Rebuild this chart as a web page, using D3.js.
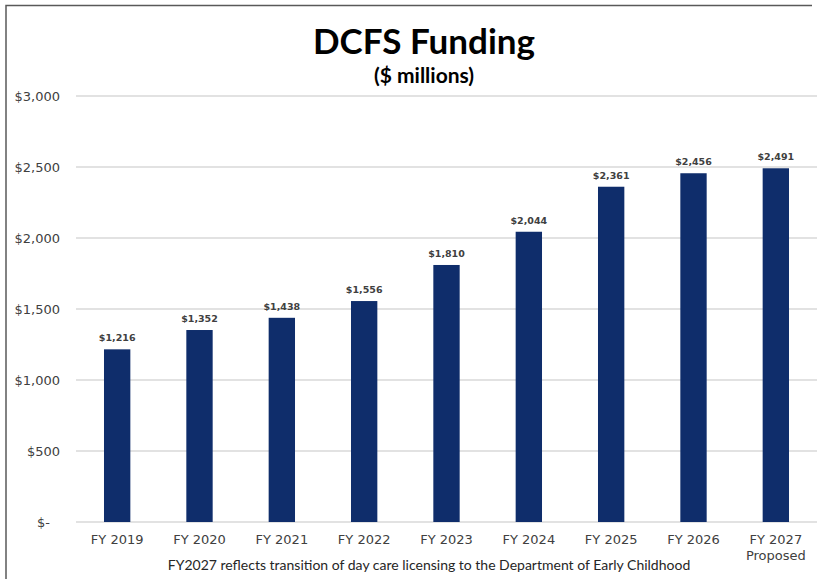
<!DOCTYPE html>
<html>
<head>
<meta charset="utf-8">
<script src="https://cdn.jsdelivr.net/npm/d3@7"></script>
<style>
  body { margin: 0; background: #fff; }
  text { fill: #404040; }
</style>
</head>
<body>
<script>
var svgWidth = 821;
var svgHeight = 579;

var categories = ["FY 2019", "FY 2020", "FY 2021", "FY 2022", "FY 2023", "FY 2024", "FY 2025", "FY 2026", "FY 2027"];
var values = [1216, 1352, 1438, 1556, 1810, 2044, 2361, 2456, 2491];
var yTicks = [0, 500, 1000, 1500, 2000, 2500, 3000];

var chartMargin = { top: 96, right: 4, bottom: 57, left: 76 };
var chartWidth = svgWidth - chartMargin.left - chartMargin.right;
var chartHeight = svgHeight - chartMargin.top - chartMargin.bottom;

var svg = d3.select("body")
            .append("svg")
            .attr("width", svgWidth)
            .attr("height", svgHeight);

// frame (top and left edges visible)
svg.append("path")
   .attr("d", "M6,579 V5.5 H812")
   .attr("fill", "none")
   .attr("stroke", "#595959")
   .attr("stroke-width", 1.5);

svg.append("text")
   .attr("x", 424)
   .attr("y", 54)
   .attr("text-anchor", "middle")
   .style("font-family", "Lato, 'Open Sans', sans-serif")
   .style("font-weight", "bold")
   .style("font-size", "35px")
   .style("fill", "#000")
   .text("DCFS Funding");

svg.append("text")
   .attr("x", 424)
   .attr("y", 83)
   .attr("text-anchor", "middle")
   .style("font-family", "Lato, 'Open Sans', sans-serif")
   .style("font-weight", "bold")
   .style("font-size", "21px")
   .style("fill", "#000")
   .text("($ millions)");

var chartGroup = svg.append("g")
                    .attr("transform", `translate(${chartMargin.left}, ${chartMargin.top})`);

var xScale = d3.scaleBand()
               .domain(categories)
               .range([0, chartWidth])
               .paddingInner(0.68)
               .paddingOuter(0.34);

var yScale = d3.scaleLinear()
               .domain([0, 3000])
               .range([chartHeight, 0]);

// gridlines
chartGroup.append("g")
          .selectAll("line")
          .data(yTicks)
          .enter()
          .append("line")
          .attr("x1", 0)
          .attr("x2", chartWidth)
          .attr("y1", d => yScale(d))
          .attr("y2", d => yScale(d))
          .attr("stroke", "#d9d9d9")
          .attr("stroke-width", 1.5);

var leftAxis = d3.axisLeft(yScale)
                 .tickValues(yTicks)
                 .tickSize(0)
                 .tickPadding(16)
                 .tickFormat(d => d === 0 ? "$-" : "$" + d3.format(",")(d));

var yAxis = chartGroup.append("g").call(leftAxis);
yAxis.select(".domain").remove();
yAxis.selectAll("text")
     .style("font-family", "'DejaVu Sans', sans-serif")
     .style("font-size", "13px")
     .style("fill", "#404040");
yAxis.selectAll("text").filter(d => d === 0).attr("dx", -10);

chartGroup.append("g")
          .selectAll("rect")
          .data(values)
          .enter()
          .append("rect")
          .attr("x", (d, i) => xScale(categories[i]))
          .attr("y", d => yScale(d))
          .attr("width", xScale.bandwidth())
          .attr("height", d => chartHeight - yScale(d))
          .attr("fill", "#0f2d6b");

chartGroup.append("g")
          .selectAll("text")
          .data(values)
          .enter()
          .append("text")
          .attr("x", (d, i) => xScale(categories[i]) + xScale.bandwidth() / 2)
          .attr("y", d => yScale(d) - 8)
          .attr("text-anchor", "middle")
          .style("font-family", "'DejaVu Sans', sans-serif")
          .style("font-weight", "bold")
          .style("font-size", "9.5px")
          .text(d => "$" + d3.format(",")(d));

var bottomAxis = d3.axisBottom(xScale)
                   .tickSize(0)
                   .tickPadding(13);

var xAxis = chartGroup.append("g")
                      .attr("transform", `translate(0, ${chartHeight})`)
                      .call(bottomAxis);
xAxis.select(".domain").remove();
xAxis.selectAll("text")
     .style("font-family", "'DejaVu Sans', sans-serif")
     .style("font-size", "13px")
     .style("fill", "#404040");

xAxis.selectAll(".tick")
     .filter(d => d === "FY 2027")
     .append("text")
     .attr("y", 29)
     .attr("dy", "0.71em")
     .attr("text-anchor", "middle")
     .style("font-family", "'DejaVu Sans', sans-serif")
     .style("font-size", "13px")
     .style("fill", "#404040")
     .text("Proposed");

svg.append("text")
   .attr("x", 429)
   .attr("y", 570)
   .attr("text-anchor", "middle")
   .style("font-family", "Lato, 'Open Sans', sans-serif")
   .style("font-size", "14px")
   .style("fill", "#262626")
   .text("FY2027 reflects transition of day care licensing to the Department of Early Childhood");
</script>
</body>
</html>
